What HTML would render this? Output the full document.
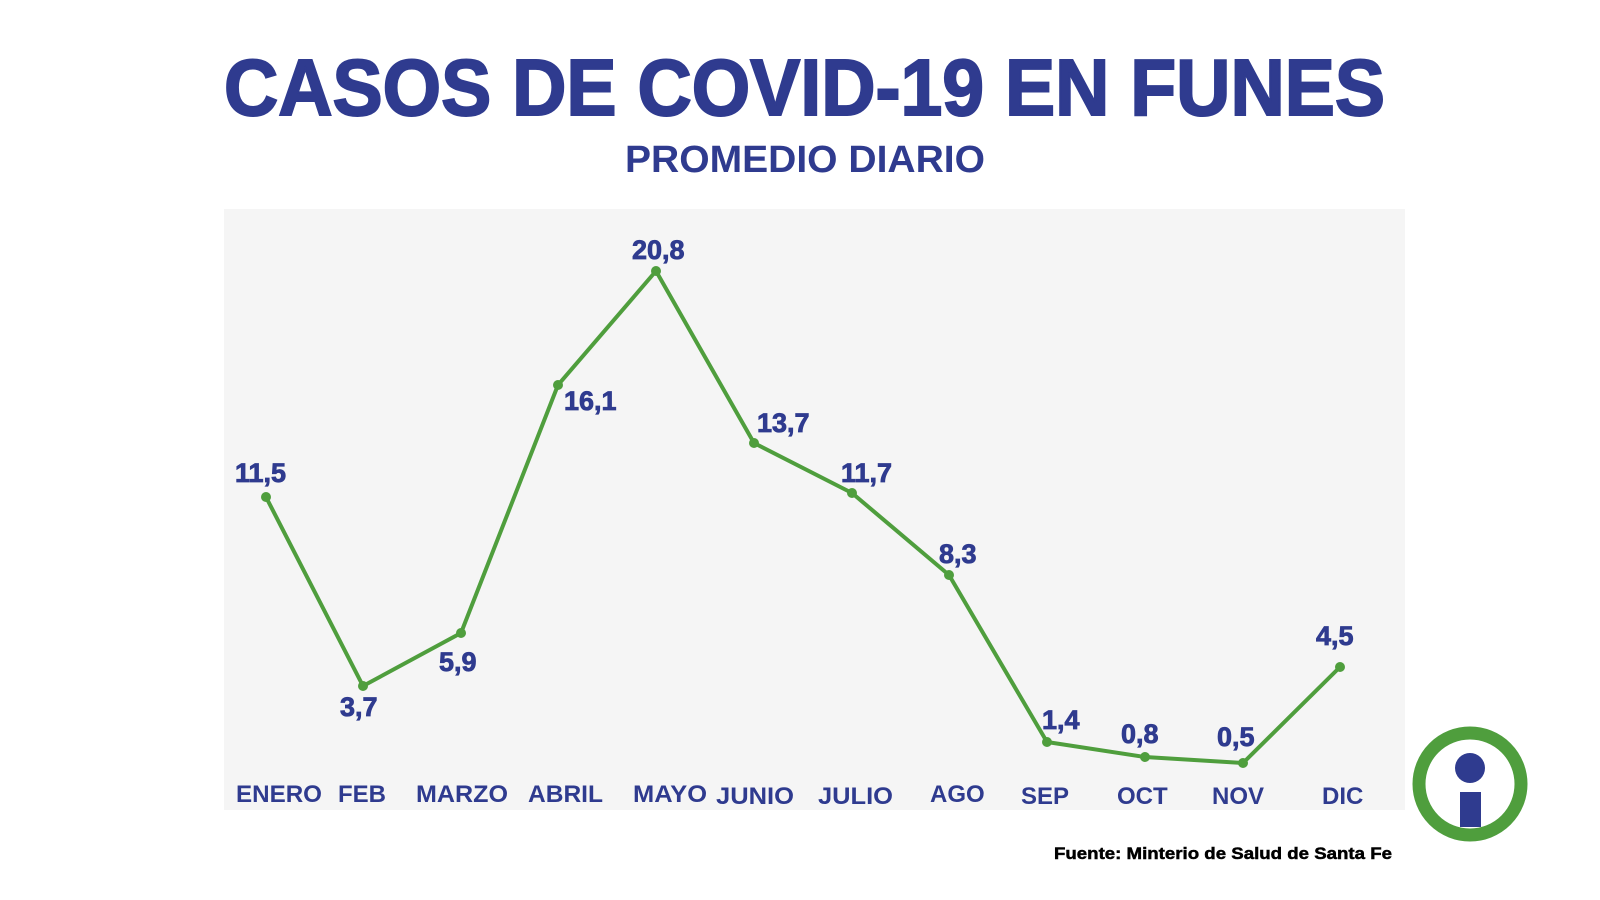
<!DOCTYPE html>
<html><head><meta charset="utf-8"><style>
html,body{margin:0;padding:0;background:#fff;}
svg{display:block}
text{font-family:"Liberation Sans",Arial,sans-serif;font-weight:bold;fill:#2f3b8f}
</style></head><body>
<svg width="1600" height="900" viewBox="0 0 1600 900" xmlns="http://www.w3.org/2000/svg">
<rect width="1600" height="900" fill="#fff"/>
<text x="224" y="115" font-size="80" textLength="1161" lengthAdjust="spacingAndGlyphs" stroke="#2f3b8f" stroke-width="2">CASOS DE COVID-19 EN FUNES</text>
<text x="625" y="172" font-size="38" textLength="360" lengthAdjust="spacingAndGlyphs">PROMEDIO DIARIO</text>
<rect x="224" y="209" width="1181" height="601" fill="#f5f5f5"/>
<polyline fill="none" stroke="#4f9e3d" stroke-width="4" stroke-linejoin="round"
 points="266,497 363,686 461,633 558,385 656,271 754,443 852,493 949,575 1047,742 1145,757 1243,763 1340,667"/>
<g fill="#4f9e3d">
<circle cx="266" cy="497" r="5"/><circle cx="363" cy="686" r="5"/><circle cx="461" cy="633" r="5"/>
<circle cx="558" cy="385" r="5"/><circle cx="656" cy="271" r="5"/><circle cx="754" cy="443" r="5"/>
<circle cx="852" cy="493" r="5"/><circle cx="949" cy="575" r="5"/><circle cx="1047" cy="742" r="5"/>
<circle cx="1145" cy="757" r="5"/><circle cx="1243" cy="763" r="5"/><circle cx="1340" cy="667" r="5"/>
</g>
<g font-size="27" stroke="#2f3b8f" stroke-width="0.8">
<text x="235" y="482">11,5</text>
<text x="340" y="716">3,7</text>
<text x="439" y="671">5,9</text>
<text x="564" y="410">16,1</text>
<text x="632" y="259">20,8</text>
<text x="757" y="432">13,7</text>
<text x="841" y="482">11,7</text>
<text x="939" y="563">8,3</text>
<text x="1042" y="729">1,4</text>
<text x="1121" y="743">0,8</text>
<text x="1217" y="746">0,5</text>
<text x="1316" y="645">4,5</text>
</g>
<g font-size="24">
<text x="236" y="802" textLength="86" lengthAdjust="spacingAndGlyphs">ENERO</text>
<text x="338" y="802">FEB</text>
<text x="416" y="802" textLength="92" lengthAdjust="spacingAndGlyphs">MARZO</text>
<text x="528" y="802" textLength="75" lengthAdjust="spacingAndGlyphs">ABRIL</text>
<text x="633" y="802" textLength="74" lengthAdjust="spacingAndGlyphs">MAYO</text>
<text x="716" y="804" textLength="78" lengthAdjust="spacingAndGlyphs">JUNIO</text>
<text x="818" y="804" textLength="75" lengthAdjust="spacingAndGlyphs">JULIO</text>
<text x="930" y="802">AGO</text>
<text x="1021" y="804">SEP</text>
<text x="1117" y="804">OCT</text>
<text x="1212" y="804">NOV</text>
<text x="1322" y="804">DIC</text>
</g>
<text x="1054" y="859" font-size="17" textLength="338" lengthAdjust="spacingAndGlyphs" style="fill:#000" stroke="#000" stroke-width="0.5">Fuente: Minterio de Salud de Santa Fe</text>
<circle cx="1470" cy="784" r="51" fill="none" stroke="#4f9e3d" stroke-width="13"/>
<circle cx="1470" cy="768" r="15" fill="#2f3b8f"/>
<rect x="1460" y="792" width="21" height="35" fill="#2f3b8f"/>
</svg>
</body></html>
